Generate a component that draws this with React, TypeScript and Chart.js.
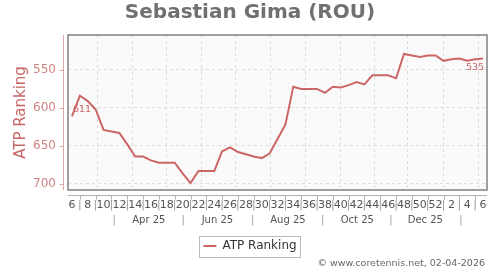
import React, { useEffect, useRef } from 'react';
import { Chart, registerables } from 'chart.js';

Chart.register(...registerables);

const FONT = "'DejaVu Sans', 'Noto Sans', sans-serif";
const TITLE = 'Sebastian Gima (ROU)';
const SERIES_NAME = 'ATP Ranking';
const Y_TITLE = 'ATP Ranking';
const CREDIT = '\u00a9 www.coretennis.net, 02-04-2026';

// ISO week numbers of each weekly ranking (Feb 2025 -> Feb 2026)
const weeks = [
  6, 7, 8, 9, 10, 11, 12, 13, 14, 15, 16, 17, 18, 19, 20, 21, 22, 23, 24, 25,
  26, 27, 28, 29, 30, 31, 32, 33, 34, 35, 36, 37, 38, 39, 40, 41, 42, 43, 44, 45,
  46, 47, 48, 49, 50, 51, 52, 1, 2, 3, 4, 5, 6,
];

const ranking = [
  611, 584, 591, 602, 629, 631, 633, 648, 664, 664, 669, 672, 672, 672, 686, 699,
  683, 683, 683, 657, 652, 658, 661, 664, 666, 660, 641, 622, 572, 575, 575, 575,
  580, 572, 573, 570, 566, 569, 557, 557, 557, 561, 529, 531, 533, 531, 531, 538,
  536, 535, 538, 536, 535,
];

const yTicks = [550, 600, 650, 700];
const yMin = 504;
const yMax = 708;

// second label row (months), positions in week-index units
const monthLabels = ['Apr 25', 'Jun 25', 'Aug 25', 'Oct 25', 'Dec 25'];
const monthLabelPos = [9.72, 18.4, 27.32, 36.1, 44.7];
const monthSepPos = [5.35, 14.08, 22.85, 31.7, 40.35, 49.2];
// month-start grid lines, week-index units
const monthGridPos = [3.16, 7.6, 11.92, 16.27, 20.64, 25.08, 29.5, 33.85, 38.26, 42.42, 46.88, 51.3];

const LINE_COLOR = 'rgb(204,102,102)';
const SEP_COLOR = '#999999';

const monthRow = [
  ...monthSepPos.map((p) => ({ p, t: '|' })),
  ...monthLabelPos.map((p, i) => ({ p, t: monthLabels[i] })),
].sort((a, b) => a.p - b.p);

const decorPlugin = {
  id: 'decor',
  beforeDraw(chart: any) {
    const { ctx, chartArea: a } = chart;
    ctx.save();
    ctx.fillStyle = '#fafafa';
    ctx.fillRect(a.left, a.top, a.right - a.left, a.bottom - a.top);
    ctx.restore();
  },
  beforeDatasetsDraw(chart: any) {
    const { ctx, chartArea: a, scales } = chart;
    const xs = scales.x;
    const ys = scales.y;
    const line = (x1: number, y1: number, x2: number, y2: number) => {
      ctx.beginPath();
      ctx.moveTo(x1, y1);
      ctx.lineTo(x2, y2);
      ctx.stroke();
    };
    ctx.save();
    ctx.strokeStyle = '#dcdcdc';
    ctx.lineWidth = 1;
    ctx.setLineDash([3, 3]);
    monthGridPos.forEach((v) => {
      const px = Math.round(xs.getPixelForValue(v)) + 0.5;
      line(px, a.top, px, a.bottom);
    });
    ctx.setLineDash([]);
    // plot frame
    ctx.strokeStyle = '#808080';
    ctx.lineWidth = 1.5;
    ctx.strokeRect(a.left, a.top, a.right - a.left, a.bottom - a.top);
    // y axis line, offset from plot
    ctx.lineWidth = 1;
    const yx = a.left - 5 + 0.5;
    ctx.strokeStyle = '#dcaaaa';
    line(yx, a.top, yx, a.bottom);
    yTicks.forEach((t) => {
      const py = Math.round(ys.getPixelForValue(t)) + 0.5;
      line(yx - 4, py, yx, py);
    });
    // x axis line, offset from plot
    const xy = a.bottom + 5 + 0.5;
    ctx.strokeStyle = '#b0b0b0';
    line(a.left, xy, a.right, xy);
    weeks.forEach((_w, i) => {
      if (i % 2 === 1) {
        const px = Math.round(xs.getPixelForValue(i)) + 0.5;
        line(px, xy, px, xy + 4);
      }
    });
    ctx.restore();
  },
  afterDatasetsDraw(chart: any) {
    const { ctx } = chart;
    const meta = chart.getDatasetMeta(0);
    const pts = meta.data;
    if (!pts.length) return;
    const first = pts[0];
    const last = pts[pts.length - 1];
    ctx.save();
    ctx.font = `9.5px ${FONT}`;
    ctx.fillStyle = LINE_COLOR;
    ctx.textBaseline = 'middle';
    ctx.textAlign = 'left';
    ctx.fillText(String(ranking[0]), first.x + 1, first.y - 7);
    ctx.textAlign = 'right';
    ctx.fillText(String(ranking[ranking.length - 1]), last.x + 1, last.y + 9);
    ctx.restore();
  },
  afterDraw(chart: any) {
    const { ctx } = chart;
    ctx.save();
    const hb = chart.legend && chart.legend.legendHitBoxes && chart.legend.legendHitBoxes[0];
    if (hb) {
      const cy = hb.top + hb.height / 2;
      ctx.strokeStyle = '#bbbbbb';
      ctx.lineWidth = 1;
      ctx.strokeRect(Math.round(hb.left - 4.5) + 0.5, Math.round(cy - 10.5) + 0.5, Math.round(hb.width + 7.5), 21);
    }
    ctx.font = `9.5px ${FONT}`;
    ctx.fillStyle = '#666666';
    ctx.textAlign = 'right';
    ctx.textBaseline = 'middle';
    ctx.fillText(CREDIT, 485, 264);
    ctx.restore();
  },
};

export default function App() {
  const ref = useRef<HTMLCanvasElement>(null);
  useEffect(() => {
    document.body.style.margin = '0';
    Chart.defaults.font.family = FONT;
    const chart = new Chart(ref.current as HTMLCanvasElement, {
      type: 'line',
      data: {
        labels: weeks.map(String),
        datasets: [
          {
            label: SERIES_NAME,
            data: ranking,
            borderColor: LINE_COLOR,
            backgroundColor: LINE_COLOR,
            borderWidth: 2,
            pointRadius: 0,
            tension: 0,
            fill: false,
            xAxisID: 'x',
            yAxisID: 'y',
          },
        ],
      },
      options: {
        responsive: false,
        animation: false,
        layout: { padding: { left: 0, right: 0, top: 0, bottom: 8 } },
        scales: {
          x: {
            type: 'category',
            position: 'bottom',
            offset: true,
            grid: { display: false, drawTicks: false },
            border: { display: false },
            ticks: {
              autoSkip: false,
              maxRotation: 0,
              minRotation: 0,
              padding: 8.5,
              font: { size: 11, family: FONT },
              color: (c: any) => (c.index % 2 === 0 ? '#555555' : SEP_COLOR),
              callback: (_v: any, i: number) => (i % 2 === 0 ? String(weeks[i]) : '|'),
            },
            afterFit: (s: any) => {
              s.height = 21;
            },
          },
          x2: {
            type: 'linear',
            position: 'bottom',
            min: -0.5,
            max: 52.5,
            grid: { display: false, drawTicks: false },
            border: { display: false },
            afterBuildTicks: (s: any) => {
              s.ticks = monthRow.map((m) => ({ value: m.p }));
            },
            ticks: {
              autoSkip: false,
              maxRotation: 0,
              minRotation: 0,
              padding: 3.5,
              font: { size: 10, family: FONT },
              color: (c: any) => (monthRow[c.index] && monthRow[c.index].t === '|' ? SEP_COLOR : '#555555'),
              callback: (_v: any, i: number) => (monthRow[i] ? monthRow[i].t : ''),
            },
            afterFit: (s: any) => {
              s.height = 19;
            },
          },
          y: {
            type: 'linear',
            position: 'left',
            reverse: true,
            min: yMin,
            max: yMax,
            afterBuildTicks: (s: any) => {
              s.ticks = yTicks.map((v) => ({ value: v }));
            },
            grid: { color: '#dddddd', lineWidth: 1, drawTicks: false },
            border: { display: false, dash: [3, 3] },
            ticks: {
              padding: 12,
              font: { size: 12, family: FONT },
              color: '#d08282',
            },
            title: {
              display: true,
              text: Y_TITLE,
              color: '#c86464',
              font: { size: 15, family: FONT },
              padding: { top: 12, bottom: 0 },
            },
            afterFit: (s: any) => {
              s.width = 68;
            },
          },
          yR: {
            type: 'linear',
            position: 'right',
            display: true,
            grid: { display: false, drawTicks: false },
            border: { display: false },
            ticks: { display: false },
            afterFit: (s: any) => {
              s.width = 13;
            },
          },
        },
        plugins: {
          title: {
            display: true,
            text: TITLE,
            color: '#707070',
            font: { size: 20, weight: 'bold', family: FONT },
            padding: { top: 1, bottom: 10 },
          },
          legend: {
            display: true,
            position: 'bottom',
            labels: {
              usePointStyle: true,
              pointStyle: 'line',
              pointStyleWidth: 13,
              padding: 10,
              color: '#333333',
              font: { size: 12, family: FONT },
            },
          },
          tooltip: { enabled: false },
        },
      },
      plugins: [decorPlugin],
    } as any);
    return () => chart.destroy();
  }, []);
  return (
    <div style={{ width: 500, height: 270 }}>
      <canvas ref={ref} width={500} height={270} style={{ display: 'block' }} />
    </div>
  );
}
